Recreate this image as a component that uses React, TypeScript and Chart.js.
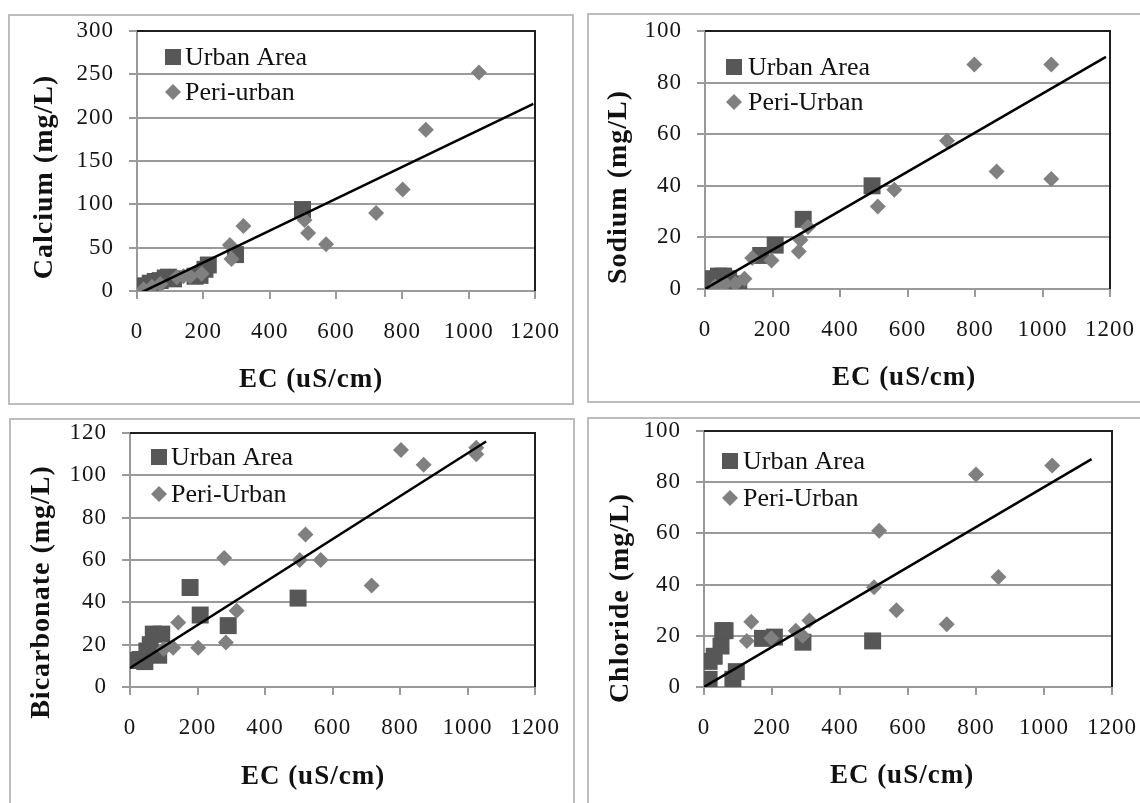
import React, { useEffect, useRef } from 'react';
import { Chart, registerables } from 'chart.js';

Chart.register(...registerables);

// ---------- DATA ----------
const ecTicks = [0, 200, 400, 600, 800, 1000, 1200];
const urbanLabel = 'Urban Area';

// Calcium
const caUrbanEC = [10, 25, 40, 55, 70, 85, 95, 110, 175, 190, 205, 215, 297, 499];
const caUrbanVal = [3, 6, 9, 11, 12, 15, 16, 14, 17, 18, 25, 30, 42, 94];
const caPeriEC = [20, 45, 70, 120, 140, 160, 195, 280, 285, 321, 505, 516, 570, 721, 801, 871, 1031];
const caPeriVal = [2, 5, 8, 16, 17, 17, 20, 53, 37, 75, 82, 67, 54, 90, 117, 186, 252];
const caTrendEC = [0, 1195];
const caTrendVal = [-4, 216];

// Sodium
const naUrbanEC = [10, 25, 40, 55, 70, 85, 100, 165, 208, 291, 495];
const naUrbanVal = [2, 4, 5, 5, 4, 2, 1, 13, 17, 27, 40];
const naPeriEC = [30, 60, 90, 117, 140, 197, 278, 283, 305, 512, 561, 717, 798, 864, 1026, 1026];
const naPeriVal = [1, 2, 2, 4, 12, 11, 14.5, 19, 24, 32, 38.5, 57.5, 87, 45.5, 87, 42.6];
const naTrendEC = [0, 1188];
const naTrendVal = [0, 90];

// Bicarbonate
const hcUrbanEC = [10, 30, 44, 50, 60, 69, 85, 94, 178, 208, 291, 498];
const hcUrbanVal = [12.5, 13, 12, 17, 20, 25, 15, 25, 47, 34, 29, 42];
const hcPeriEC = [100, 128, 143, 202, 279, 284, 316, 503, 520, 565, 716, 803, 870, 1026, 1026];
const hcPeriVal = [18, 18.5, 30.5, 18.5, 61, 21, 36, 60, 72, 60, 48, 112, 105, 113, 110];
const hcTrendEC = [0, 1055];
const hcTrendVal = [9, 116];

// Chloride
const clUrbanEC = [15, 15, 30, 50, 55, 62, 85, 95, 172, 207, 291, 496];
const clUrbanVal = [10, 3, 12, 16, 22, 22, 3, 6, 19, 19.5, 17.5, 18];
const clPeriEC = [126, 139, 198, 270, 290, 310, 500, 515, 566, 714, 800, 866, 1024];
const clPeriVal = [18, 25.5, 19, 22, 20, 26, 39, 61, 30, 24.5, 83, 43, 86.5];
const clTrendEC = [0, 1140];
const clTrendVal = [0, 89];

const pts = (xs: number[], ys: number[]) => xs.map((x, i) => ({ x, y: ys[i] }));

// ---------- STYLE / LAYOUT ----------
const FONT = "'Liberation Serif', 'Times New Roman', serif";
const GRID = '#9a9a9a';
const URBAN_COLOR = '#575757';
const PERI_COLOR = '#808080';

type Box = { x: number; y: number; w: number; h: number };
type PanelCfg = {
  box: Box;
  plot: { l: number; t: number; r: number; b: number };
  yMax: number;
  yStep: number;
  yTitle: string;
  yTitlePos: { x: number; y: number };
  xTitlePos: { x: number; y: number };
  legend: { mx: number; tx: number; r1: number; r2: number };
  periLabel: string;
  urban: { x: number; y: number }[];
  peri: { x: number; y: number }[];
  trend: { x: number; y: number }[];
};

const panels: PanelCfg[] = [
  {
    box: { x: 8, y: 14, w: 566, h: 391 },
    plot: { l: 137, t: 31, r: 535, b: 291 },
    yMax: 300, yStep: 50, yTitle: 'Calcium (mg/L)',
    yTitlePos: { x: 45, y: 177 }, xTitlePos: { x: 311, y: 380 },
    legend: { mx: 173, tx: 185, r1: 57, r2: 92 },
    periLabel: 'Peri-urban',
    urban: pts(caUrbanEC, caUrbanVal), peri: pts(caPeriEC, caPeriVal), trend: pts(caTrendEC, caTrendVal),
  },
  {
    box: { x: 587, y: 13, w: 558, h: 390 },
    plot: { l: 705, t: 31, r: 1110, b: 289 },
    yMax: 100, yStep: 20, yTitle: 'Sodium (mg/L)',
    yTitlePos: { x: 619, y: 187 }, xTitlePos: { x: 904, y: 378 },
    legend: { mx: 734, tx: 748, r1: 67, r2: 102 },
    periLabel: 'Peri-Urban',
    urban: pts(naUrbanEC, naUrbanVal), peri: pts(naPeriEC, naPeriVal), trend: pts(naTrendEC, naTrendVal),
  },
  {
    box: { x: 9, y: 418, w: 566, h: 390 },
    plot: { l: 130, t: 433, r: 535, b: 687 },
    yMax: 120, yStep: 20, yTitle: 'Bicarbonate (mg/L)',
    yTitlePos: { x: 42, y: 592 }, xTitlePos: { x: 313, y: 777 },
    legend: { mx: 159, tx: 171, r1: 457, r2: 494 },
    periLabel: 'Peri-Urban',
    urban: pts(hcUrbanEC, hcUrbanVal), peri: pts(hcPeriEC, hcPeriVal), trend: pts(hcTrendEC, hcTrendVal),
  },
  {
    box: { x: 587, y: 417, w: 558, h: 390 },
    plot: { l: 704, t: 431, r: 1112, b: 687 },
    yMax: 100, yStep: 20, yTitle: 'Chloride (mg/L)',
    yTitlePos: { x: 621, y: 598 }, xTitlePos: { x: 902, y: 776 },
    legend: { mx: 730, tx: 743, r1: 461, r2: 498 },
    periLabel: 'Peri-Urban',
    urban: pts(clUrbanEC, clUrbanVal), peri: pts(clPeriEC, clPeriVal), trend: pts(clTrendEC, clTrendVal),
  },
];

const decorPlugin = {
  id: 'decor',
  beforeDraw(chart: any) {
    (chart.ctx as any).letterSpacing = '1px';
  },
  afterDatasetsDraw(chart: any, _args: any, opts: any) {
    const { ctx, chartArea: a } = chart;
    ctx.save();
    // top and right plot border
    ctx.strokeStyle = '#1e1e1e';
    ctx.lineWidth = 2;
    ctx.beginPath();
    ctx.moveTo(a.left, a.top);
    ctx.lineTo(a.right, a.top);
    ctx.lineTo(a.right, a.bottom);
    ctx.stroke();

    // axis titles
    ctx.fillStyle = '#111';
    ctx.textAlign = 'center';
    ctx.textBaseline = 'middle';
    ctx.letterSpacing = '1px';
    ctx.font = `bold 27px ${FONT}`;
    ctx.fillText(opts.xTitle, opts.xTitleX, opts.xTitleY);
    ctx.save();
    ctx.translate(opts.yTitleX, opts.yTitleY);
    ctx.rotate(-Math.PI / 2);
    ctx.font = `bold 28px ${FONT}`;
    ctx.fillText(opts.yTitle, 0, 0);
    ctx.restore();

    // legend (from datasets)
    const items = chart.data.datasets.filter((d: any) => d.inLegend);
    items.sort((p: any, q: any) => p.legendIndex - q.legendIndex);
    const rows = [opts.r1, opts.r2];
    ctx.letterSpacing = '0px';
    ctx.font = `26px ${FONT}`;
    ctx.textAlign = 'left';
    items.forEach((d: any, i: number) => {
      const y = rows[i];
      ctx.fillStyle = d.backgroundColor;
      if (d.pointStyle === 'rect') {
        ctx.fillRect(opts.mx - 8, y - 8, 16, 16);
      } else {
        ctx.beginPath();
        ctx.moveTo(opts.mx - 8, y);
        ctx.lineTo(opts.mx, y - 8);
        ctx.lineTo(opts.mx + 8, y);
        ctx.lineTo(opts.mx, y + 8);
        ctx.closePath();
        ctx.fill();
      }
      ctx.fillStyle = '#111';
      ctx.fillText(d.label, opts.tx, y + 1);
    });
    ctx.restore();
  },
  afterDraw(chart: any) {
    (chart.ctx as any).letterSpacing = '0px';
  },
};

function Panel({ cfg }: { cfg: PanelCfg }) {
  const ref = useRef<HTMLCanvasElement>(null);
  useEffect(() => {
    const { box, plot } = cfg;
    const pl = plot.l - box.x;
    const pt = plot.t - box.y;
    const pr = plot.r - box.x;
    const pb = plot.b - box.y;
    const tickFont = { family: FONT, size: 23 };
    const chart = new Chart(ref.current as HTMLCanvasElement, {
      type: 'scatter',
      data: {
        datasets: [
          {
            type: 'line',
            label: 'trend',
            data: cfg.trend,
            borderColor: '#000',
            borderWidth: 2.5,
            pointRadius: 0,
            fill: false,
            order: 0,
          } as any,
          {
            label: cfg.periLabel,
            data: cfg.peri,
            pointStyle: 'rectRot',
            pointRadius: 8,
            backgroundColor: PERI_COLOR,
            borderColor: PERI_COLOR,
            borderWidth: 0,
            order: 1,
            inLegend: true,
            legendIndex: 1,
          } as any,
          {
            label: urbanLabel,
            data: cfg.urban,
            pointStyle: 'rect',
            pointRadius: 12,
            backgroundColor: URBAN_COLOR,
            borderColor: URBAN_COLOR,
            borderWidth: 0,
            order: 2,
            inLegend: true,
            legendIndex: 0,
          } as any,
        ],
      },
      options: {
        responsive: false,
        animation: false,
        events: [],
        layout: { padding: { left: 0, top: pt, right: box.w - pr, bottom: 0 } },
        plugins: {
          legend: { display: false },
          tooltip: { enabled: false },
          decor: {
            xTitle: 'EC (uS/cm)',
            xTitleX: cfg.xTitlePos.x - box.x,
            xTitleY: cfg.xTitlePos.y - box.y,
            yTitle: cfg.yTitle,
            yTitleX: cfg.yTitlePos.x - box.x,
            yTitleY: cfg.yTitlePos.y - box.y,
            mx: cfg.legend.mx - box.x,
            tx: cfg.legend.tx - box.x,
            r1: cfg.legend.r1 - box.y,
            r2: cfg.legend.r2 - box.y,
          },
        } as any,
        scales: {
          x: {
            type: 'linear',
            min: ecTicks[0],
            max: ecTicks[ecTicks.length - 1],
            afterFit: (s: any) => {
              s.height = box.h - pb;
              s.paddingLeft = 10;
              s.paddingRight = 26;
            },
            afterBuildTicks: (s: any) => { s.ticks = ecTicks.map((v) => ({ value: v })); },
            ticks: {
              font: tickFont,
              color: '#151515',
              padding: 19,
              maxRotation: 0,
              autoSkip: false,
              callback: (v: any) => String(v),
            },
            grid: { drawOnChartArea: false, drawTicks: true, tickLength: 8, color: GRID, lineWidth: 2 },
            border: { color: GRID, width: 2 },
          },
          y: {
            type: 'linear',
            min: 0,
            max: cfg.yMax,
            afterFit: (s: any) => {
              s.width = pl;
              s.paddingTop = 12;
              s.paddingBottom = 12;
            },
            ticks: {
              stepSize: cfg.yStep,
              font: tickFont,
              color: '#151515',
              padding: 15,
              callback: (v: any) => String(v),
            },
            grid: { color: GRID, lineWidth: 2, tickLength: 8 },
            border: { color: GRID, width: 2 },
          },
        },
      },
      plugins: [decorPlugin],
    });
    return () => chart.destroy();
  }, [cfg]);

  const { box } = cfg;
  return (
    <div
      style={{
        position: 'absolute',
        left: box.x,
        top: box.y,
        width: box.w,
        height: box.h,
        border: '2px solid #bdbdbd',
        boxSizing: 'border-box',
      }}
    >
      <canvas
        ref={ref}
        width={box.w}
        height={box.h}
        style={{ position: 'absolute', left: -2, top: -2, width: box.w, height: box.h }}
      />
    </div>
  );
}

export default function App() {
  return (
    <div
      style={{
        position: 'fixed',
        left: 0,
        top: 0,
        width: 1140,
        height: 803,
        overflow: 'hidden',
        background: '#fff',
      }}
    >
      {panels.map((p, i) => (
        <Panel key={i} cfg={p} />
      ))}
    </div>
  );
}
